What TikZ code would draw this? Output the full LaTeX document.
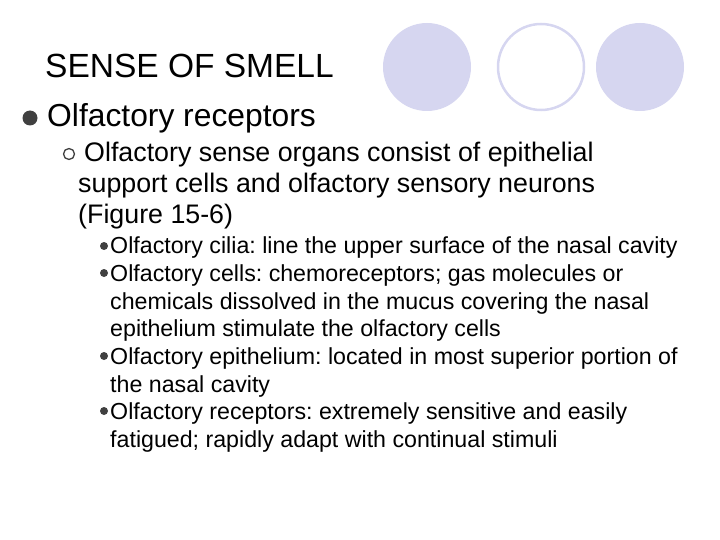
\documentclass[tikz,border=0pt]{standalone}
\usepackage{fontspec}
\setmainfont{Liberation Sans}
\frenchspacing
\definecolor{lav}{RGB}{214,214,240}
\begin{document}
\begin{tikzpicture}[x=1pt,y=-1pt,
  t/.style={anchor=base west,inner sep=0pt},
  l3/.style={t,font=\fontsize{23.2}{24}\selectfont},
  l2/.style={t,font=\fontsize{26.8}{27}\selectfont},
  b3/.style={circle,fill=black!75,inner sep=0pt,minimum size=8pt}]
\useasboundingbox (0,0) rectangle (720,540);
\fill[lav] (427,67) circle (44);
\draw[lav,line width=2.5pt] (541,67) circle (43);
\fill[lav] (640,67) circle (44);
\node[t,font=\fontsize{33.5}{34}\selectfont] (title) at (45,78) {SENSE OF SMELL};
\node[circle,fill=black!75,inner sep=0pt,minimum size=15pt] (b1) at (30,118) {};
\node[t,font=\fontsize{31.8}{32}\selectfont] (l1) at (47,127) {Olfactory receptors};
\node[circle,draw=black!75,line width=1.3pt,inner sep=0pt,minimum size=11pt] (b2) at (69,154) {};
\node[l2] (a1) at (84,162) {Olfactory sense organs consist of epithelial};
\node[l2] (a2) at (78,193) {support cells and olfactory sensory neurons};
\node[l2] (a3) at (78,224) {(Figure 15-6)};
\node[b3] (c1) at (104,246) {};
\node[l3] (d1) at (110,254) {Olfactory cilia: line the upper surface of the nasal cavity};
\node[b3] (c2) at (104,273) {};
\node[l3] (d2) at (110,281) {Olfactory cells: chemoreceptors; gas molecules or};
\node[l3] (d3) at (110,309) {chemicals dissolved in the mucus covering the nasal};
\node[l3] (d4) at (110,336) {epithelium stimulate the olfactory cells};
\node[b3] (c3) at (104,356) {};
\node[l3] (d5) at (110,364) {Olfactory epithelium: located in most superior portion of};
\node[l3] (d6) at (110,392) {the nasal cavity};
\node[b3] (c4) at (104,411) {};
\node[l3] (d7) at (110,419) {Olfactory receptors: extremely sensitive and easily};
\node[l3] (d8) at (110,447) {fatigued; rapidly adapt with continual stimuli};
\end{tikzpicture}
\end{document}
